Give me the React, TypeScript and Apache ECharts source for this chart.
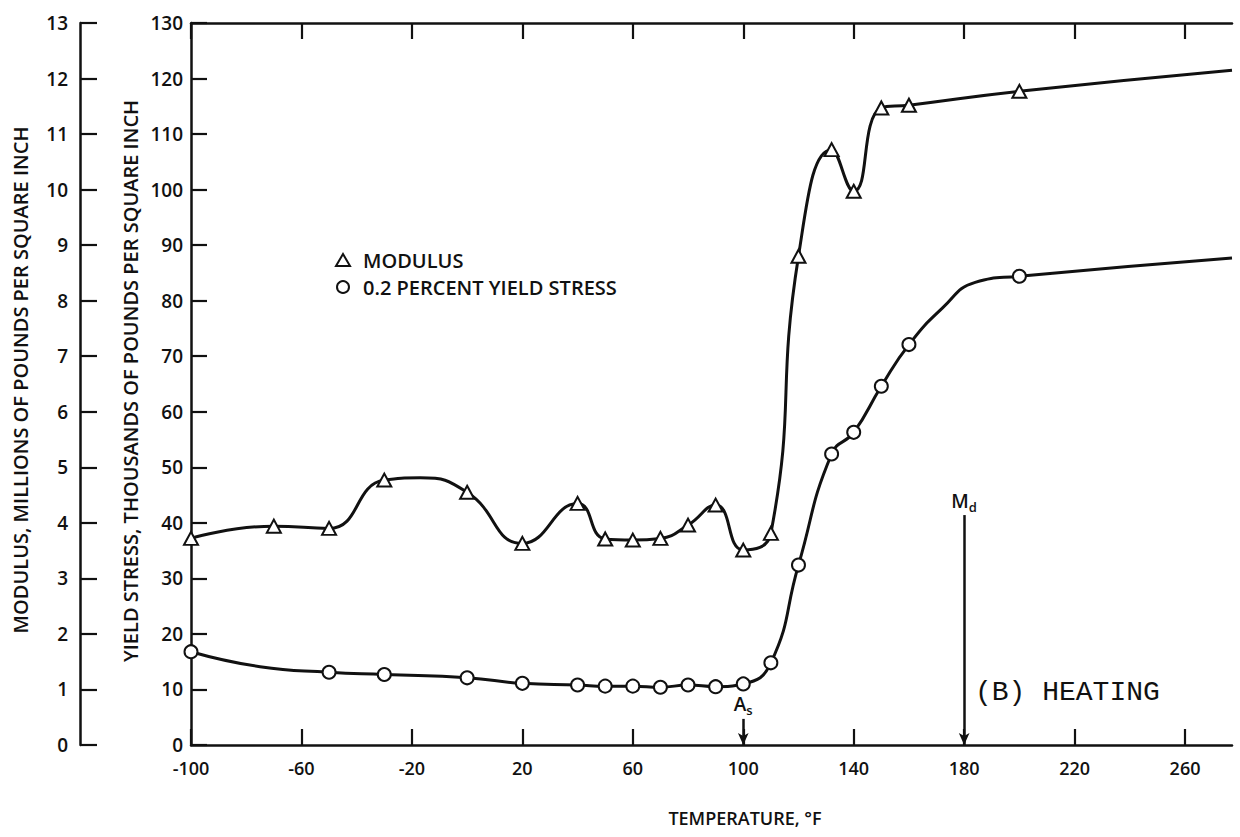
import React, { useEffect, useRef } from "react";
import * as echarts from "echarts";

// ---- data ----
const xTickValues = [-100, -60, -20, 20, 60, 100, 140, 180, 220, 260];

// Modulus, millions of psi (triangles)
const modulusTemps = [-100, -70, -50, -30, 0, 20, 40, 50, 60, 70, 80, 90, 100, 110, 120, 132, 140, 150, 160, 200];
const modulusValues = [3.72, 3.94, 3.9, 4.77, 4.55, 3.63, 4.35, 3.71, 3.69, 3.72, 3.96, 4.32, 3.51, 3.81, 8.8, 10.72, 9.97, 11.47, 11.52, 11.77];
// points (no marker)
const modulusCurveGuides = [[-17, 4.81]];
const modulusCurveEnd = [277, 12.15];

// 0.2 percent yield stress, thousands of psi (circles)
const yieldTemps = [-100, -50, -30, 0, 20, 40, 50, 60, 70, 80, 90, 100, 110, 120, 132, 140, 150, 160, 200];
const yieldValues = [16.8, 13.1, 12.7, 12.1, 11.1, 10.8, 10.6, 10.6, 10.4, 10.8, 10.5, 11.0, 14.8, 32.4, 52.4, 56.3, 64.6, 72.1, 84.4];
// points (no marker)
const yieldCurveGuides = [[-75, 14.1], [172, 78.6], [184, 83.3]];
const yieldCurveEnd = [277, 87.7];

// annotations
const asTemp = 100;
const asArrowTop = 4.7;
const mdTemp = 180;
const mdArrowTop = 41.4;

const INK = "#111111";
const FONT = "'Open Sans', 'DejaVu Sans', sans-serif";
const WEIGHT = 600;

function buildSeriesData(temps: number[], values: number[], guides: number[][], end: number[]) {
  const pts: any[] = temps.map((t, i) => ({ value: [t, values[i]] }));
  guides.forEach((g) => pts.push({ value: g, symbol: "none" }));
  pts.push({ value: end, symbol: "none" });
  pts.sort((a, b) => a.value[0] - b.value[0]);
  return pts;
}

export default function App() {
  const ref = useRef<HTMLDivElement>(null);

  useEffect(() => {
    if (!ref.current) return;
    const chart = echarts.init(ref.current, null, { renderer: "svg" });

    const axisLineStyle = { color: INK, width: 2.5 };
    const tickStyle = { color: INK, width: 2.2 };

    const option: any = {
      animation: false,
      backgroundColor: "#ffffff",
      textStyle: { fontFamily: FONT },
      grid: { left: 191, right: 8, top: 23, bottom: 92, containLabel: false },
      legend: {
        orient: "vertical",
        left: 330,
        top: 245,
        itemGap: 7,
        itemWidth: 14,
        itemHeight: 12,
        selectedMode: false,
        textStyle: { fontSize: 20, color: INK, fontFamily: FONT, fontWeight: WEIGHT, padding: [0, 0, 0, 8] },
        data: [
          { name: "MODULUS", icon: "triangle", itemStyle: { color: "#fff", borderColor: INK, borderWidth: 2 } },
          { name: "0.2 PERCENT YIELD STRESS", icon: "circle", itemStyle: { color: "#fff", borderColor: INK, borderWidth: 2 } },
        ],
      },
      xAxis: [
        {
          type: "value",
          min: -100,
          max: 277,
          position: "bottom",
          axisLine: { show: true, onZero: false, lineStyle: axisLineStyle },
          axisTick: { show: true, inside: true, length: 16, lineStyle: tickStyle, customValues: xTickValues },
          axisLabel: { customValues: xTickValues, margin: 14, fontSize: 18, color: INK, fontFamily: FONT, fontWeight: WEIGHT },
          splitLine: { show: false },
        },
        {
          type: "value",
          min: -100,
          max: 277,
          position: "top",
          axisLine: { show: true, onZero: false, lineStyle: axisLineStyle },
          axisTick: { show: true, inside: true, length: 16, lineStyle: tickStyle, customValues: xTickValues },
          axisLabel: { show: false },
          splitLine: { show: false },
        },
      ],
      yAxis: [
        {
          type: "value",
          min: 0,
          max: 130,
          interval: 10,
          position: "left",
          axisLine: { show: true, onZero: false, lineStyle: axisLineStyle },
          axisTick: { show: true, inside: true, length: 16, lineStyle: tickStyle },
          axisLabel: { margin: 8, fontSize: 19, color: INK, fontFamily: FONT, fontWeight: WEIGHT },
          splitLine: { show: false },
        },
        {
          type: "value",
          min: 0,
          max: 13,
          interval: 1,
          position: "left",
          offset: 111,
          axisLine: { show: true, onZero: false, lineStyle: axisLineStyle },
          axisTick: { show: true, inside: true, length: 17, lineStyle: tickStyle },
          axisLabel: { margin: 12, fontSize: 19, color: INK, fontFamily: FONT, fontWeight: WEIGHT },
          splitLine: { show: false },
        },
      ],
      series: [
        {
          type: "line",
          name: "MODULUS",
          xAxisIndex: 0,
          yAxisIndex: 1,
          smooth: 0.5,
          data: buildSeriesData(modulusTemps, modulusValues, modulusCurveGuides, modulusCurveEnd),
          symbol: "triangle",
          symbolSize: [14, 13],
          showAllSymbol: true,
          itemStyle: { color: "#fff", borderColor: INK, borderWidth: 2 },
          lineStyle: { color: INK, width: 3 },
          z: 3,
        },
        {
          type: "line",
          name: "0.2 PERCENT YIELD STRESS",
          xAxisIndex: 0,
          yAxisIndex: 0,
          smooth: 0.5,
          data: buildSeriesData(yieldTemps, yieldValues, yieldCurveGuides, yieldCurveEnd),
          symbol: "circle",
          symbolSize: 13,
          showAllSymbol: true,
          itemStyle: { color: "#fff", borderColor: INK, borderWidth: 2 },
          lineStyle: { color: INK, width: 3 },
          z: 3,
          markLine: {
            silent: true,
            symbol: ["none", "arrow"],
            symbolSize: [8, 12],
            lineStyle: { color: INK, width: 2.5, type: "solid" },
            label: {
              show: true,
              position: "start",
              distance: 4,
              rich: {
                m: { fontSize: 19, fontFamily: FONT, fontWeight: WEIGHT, color: INK, lineHeight: 20, verticalAlign: "top" },
                s: { fontSize: 13, fontFamily: FONT, fontWeight: WEIGHT, color: INK, lineHeight: 12, padding: [9, 0, 0, 0], verticalAlign: "top" },
              },
            },
            data: [
              [
                { coord: [asTemp, asArrowTop], label: { formatter: "{m|A}{s|s}" } },
                { coord: [asTemp, 0] },
              ],
              [
                { coord: [mdTemp, mdArrowTop], label: { formatter: "{m|M}{s|d}" } },
                { coord: [mdTemp, 0] },
              ],
            ],
          },
        },
      ],
      graphic: [
        {
          type: "text",
          x: 20,
          y: 380,
          rotation: Math.PI / 2,
          style: {
            text: "MODULUS, MILLIONS OF POUNDS PER SQUARE INCH",
            fontSize: 20,
            fontWeight: WEIGHT,
            fontFamily: FONT,
            fill: INK,
            align: "center",
            verticalAlign: "middle",
          },
        },
        {
          type: "text",
          x: 130,
          y: 381,
          rotation: Math.PI / 2,
          style: {
            text: "YIELD STRESS, THOUSANDS OF POUNDS PER SQUARE INCH",
            fontSize: 20,
            fontWeight: WEIGHT,
            fontFamily: FONT,
            fill: INK,
            align: "center",
            verticalAlign: "middle",
          },
        },
        {
          type: "text",
          x: 745,
          y: 818,
          style: {
            text: "TEMPERATURE, \u00B0F",
            fontSize: 18,
            fontWeight: WEIGHT,
            fontFamily: FONT,
            fill: INK,
            align: "center",
            verticalAlign: "middle",
          },
        },
        {
          type: "text",
          x: 975,
          y: 692,
          style: {
            text: "(B) HEATING",
            fontSize: 28,
            fontFamily: "'Liberation Mono', 'DejaVu Sans Mono', monospace",
            fill: INK,
            align: "left",
            verticalAlign: "middle",
          },
        },
      ],
    };

    chart.setOption(option);
    return () => chart.dispose();
  }, []);

  return (
    <div
      ref={ref}
      style={{ position: "fixed", left: 0, top: 0, width: 1240, height: 837, background: "#fff" }}
    />
  );
}
